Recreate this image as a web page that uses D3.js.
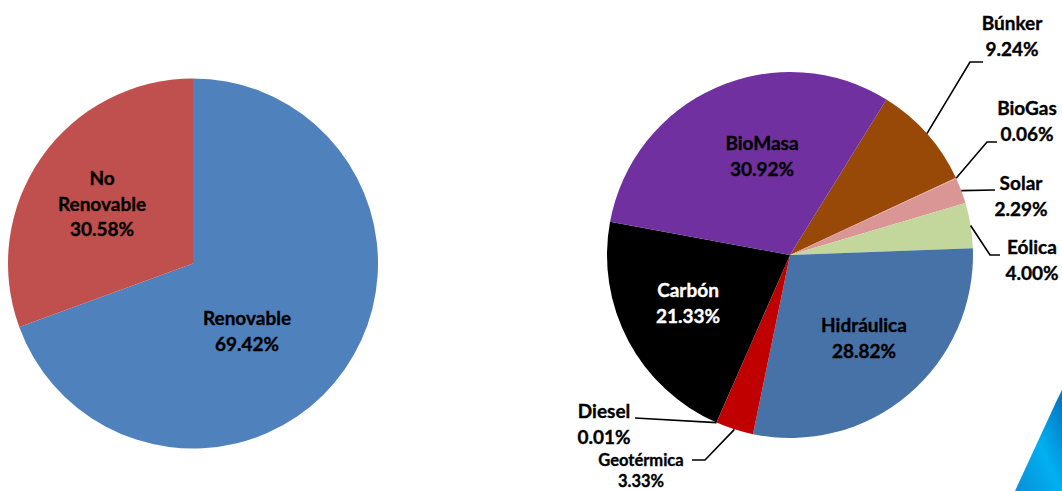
<!DOCTYPE html>
<html>
<head>
<meta charset="utf-8">
<script src="https://cdn.jsdelivr.net/npm/d3@7/dist/d3.min.js"></script>
<style>
  html, body { margin: 0; padding: 0; background: #ffffff; }
  svg { display: block; }
  text { font-family: "Lato", "Open Sans", sans-serif; font-weight: 700; }
</style>
</head>
<body>
<svg id="chart" width="1062" height="491"></svg>
<script>
// ---------- DATA ----------
const leftCategories = ["Renovable", "No Renovable"];
const leftValues = [69.42, 30.58];
const leftLabels = ["69.42%", "30.58%"];

const rightCategories = ["Búnker", "BioGas", "Solar", "Eólica", "Hidráulica", "Geotérmica", "Diesel", "Carbón", "BioMasa"];
const rightValues = [9.24, 0.06, 2.29, 4.00, 28.82, 3.33, 0.01, 21.33, 30.92];
const rightLabels = ["9.24%", "0.06%", "2.29%", "4.00%", "28.82%", "3.33%", "0.01%", "21.33%", "30.92%"];

// ---------- STYLE / LAYOUT ----------
const leftColors = { "Renovable": "#4F81BD", "No Renovable": "#C0504D" };
const rightColors = {
  "Búnker": "#984807", "BioGas": "#D99694", "Solar": "#D99694", "Eólica": "#C3D69B",
  "Hidráulica": "#4672A8", "Geotérmica": "#C00000", "Diesel": "#FFC000",
  "Carbón": "#000000", "BioMasa": "#7030A0"
};
const mainSize = 19;
const smallSize = 16.5;

const svg = d3.select("#chart");

// gradient for decorative corner
const defs = svg.append("defs");
const grad = defs.append("linearGradient").attr("id", "cornerGrad")
  .attr("x1", "0%").attr("y1", "100%").attr("x2", "100%").attr("y2", "0%");
grad.append("stop").attr("offset", "0%").attr("stop-color", "#0A8FD8");
grad.append("stop").attr("offset", "50%").attr("stop-color", "#00B0F0");
grad.append("stop").attr("offset", "100%").attr("stop-color", "#0070C0");

function addText(g, lines, x, y0, gap, size, color) {
  const t = g.append("text").attr("text-anchor", "middle")
    .attr("font-size", size).attr("fill", color)
    .attr("stroke", color).attr("stroke-width", 0.35);
  lines.forEach((ln, i) => {
    t.append("tspan").attr("x", x).attr("y", y0 + i * gap).text(ln);
  });
}

// ---------- LEFT PIE ----------
const L = { cx: 193, cy: 263.5, r: 185 };
const leftPie = d3.pie().sort(null).value(d => d.value);
const leftData = leftPie(leftCategories.map((c, i) => ({ cat: c, value: leftValues[i], label: leftLabels[i] })));
const leftArc = d3.arc().innerRadius(0).outerRadius(L.r);
const gL = svg.append("g").attr("transform", `translate(${L.cx},${L.cy})`);
gL.selectAll("path").data(leftData).join("path")
  .attr("d", leftArc).attr("fill", d => leftColors[d.data.cat]);

const leftLabelLayout = {
  "Renovable": { dx: 54, dy: 61.5, lines: ["Renovable"] },
  "No Renovable": { dx: -91, dy: -78.5, lines: ["No", "Renovable"] }
};
leftData.forEach(d => {
  const lay = leftLabelLayout[d.data.cat];
  addText(gL, lay.lines.concat([d.data.label]), lay.dx, lay.dy, 25.5, mainSize, "#000");
});

// ---------- RIGHT PIE ----------
const R = { cx: 790, cy: 255, r: 183 };
const startDeg = 31.8;
const rightPie = d3.pie().sort(null).value(d => d.value)
  .startAngle(startDeg * Math.PI / 180).endAngle(startDeg * Math.PI / 180 + 2 * Math.PI);
const rightData = rightPie(rightCategories.map((c, i) => ({ cat: c, value: rightValues[i], label: rightLabels[i] })));
const rightArc = d3.arc().innerRadius(0).outerRadius(R.r);
const gR = svg.append("g").attr("transform", `translate(${R.cx},${R.cy})`);
gR.selectAll("path").data(rightData).join("path")
  .attr("d", rightArc).attr("fill", d => rightColors[d.data.cat]);

// inside labels (offsets relative to pie centre)
const insideLayout = {
  "BioMasa": { dx: -28, dy: -105, color: "#000" },
  "Carbón": { dx: -102, dy: 42, color: "#fff" },
  "Hidráulica": { dx: 74, dy: 77, color: "#000" }
};
// outside labels with leader lines: elbow, end (relative to centre), text centre & first baseline
const outsideLayout = {
  "Búnker": { elbow: [180, -193], end: [193, -193], tx: 222, ty: -225, size: mainSize, gap: 25.5 },
  "BioGas": { elbow: [197, -113], end: [207, -113], tx: 237, ty: -140, size: mainSize, gap: 25.5 },
  "Solar": { elbow: [205, -65], end: [205, -65], tx: 231, ty: -65, size: mainSize, gap: 25.5 },
  "Eólica": { elbow: [200, 0], end: [210, 0], tx: 242, ty: -1, size: mainSize, gap: 25.5 },
  "Geotérmica": { elbow: [-85, 205], end: [-98, 205], tx: -149, ty: 211, size: smallSize, gap: 21 },
  "Diesel": { elbow: [-155, 163], end: [-155, 163], tx: -186, ty: 163, size: mainSize, gap: 25.5 }
};

rightData.forEach(d => {
  const cat = d.data.cat;
  if (insideLayout[cat]) {
    const lay = insideLayout[cat];
    addText(gR, [cat, d.data.label], lay.dx, lay.dy, 25.5, mainSize, lay.color);
  } else if (outsideLayout[cat]) {
    const lay = outsideLayout[cat];
    const mid = (d.startAngle + d.endAngle) / 2;
    const p0 = [R.r * Math.sin(mid), -R.r * Math.cos(mid)];
    gR.append("polyline")
      .attr("points", [p0, lay.elbow, lay.end].map(p => p.join(",")).join(" "))
      .attr("fill", "none").attr("stroke", "#000").attr("stroke-width", 1.6);
    addText(gR, [cat, d.data.label], lay.tx, lay.ty, lay.gap, lay.size, "#000");
  }
});

// decorative corner shape
svg.append("polygon")
  .attr("points", "1015,491 1057,400 1062,390 1062,491")
  .attr("fill", "url(#cornerGrad)");
</script>
</body>
</html>
